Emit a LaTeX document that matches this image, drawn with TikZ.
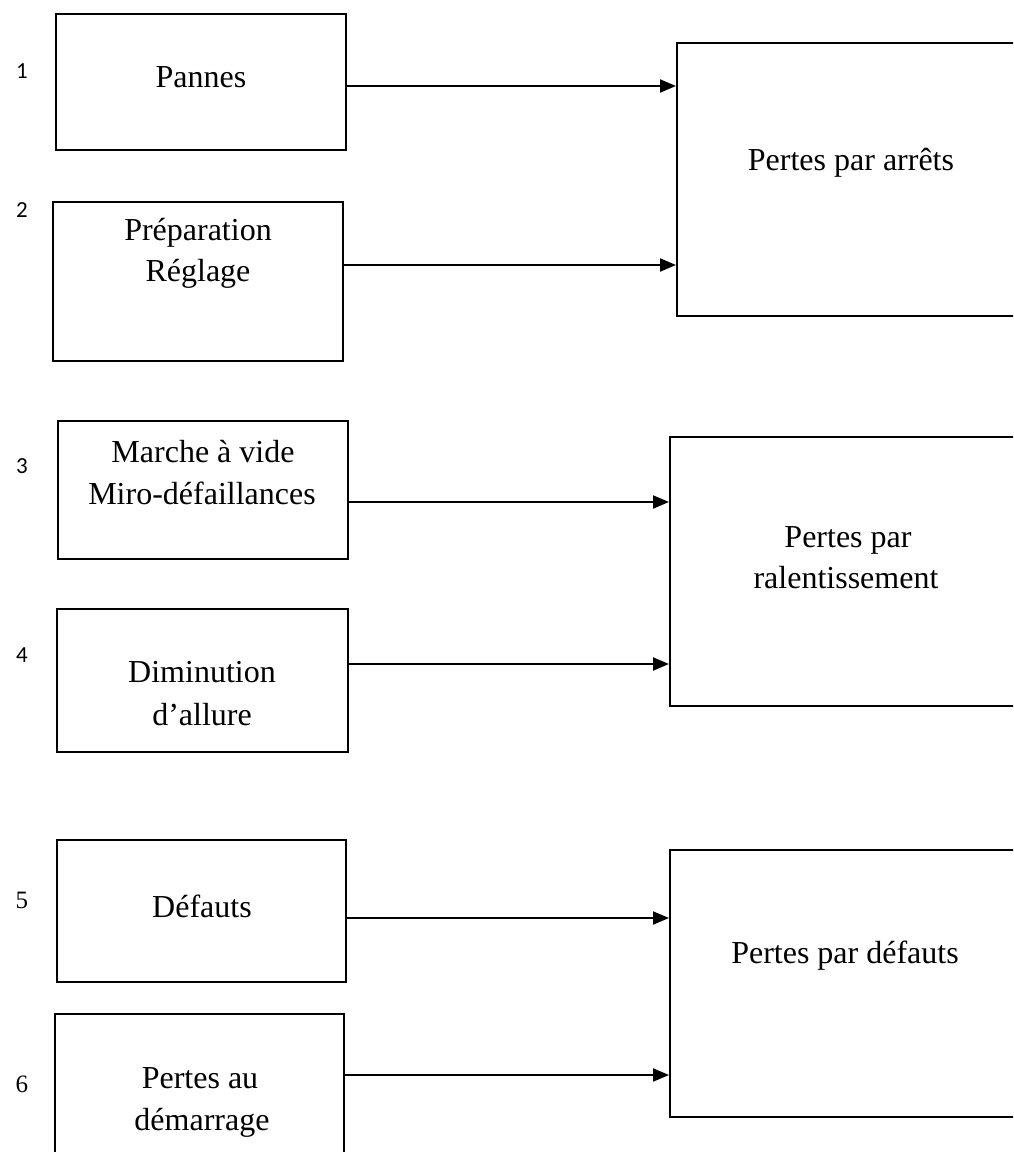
\documentclass[tikz,border=0pt]{standalone}
\usepackage{fontspec}
\setmainfont{Liberation Serif}
\newfontfamily\numfont{Carlito}
\usetikzlibrary{arrows.meta}

\begin{document}
\begin{tikzpicture}[x=1pt,y=-1pt,
  cause/.style={draw,line width=2pt,inner sep=0pt},
  loss/.style={draw,line width=2pt,inner sep=0pt},
  txt/.style={anchor=base,inner sep=0pt,font=\fontsize{32}{38}\selectfont},
  numA/.style={anchor=base,inner sep=0pt,font=\numfont\fontsize{23}{26}\selectfont},
  numB/.style={anchor=base,inner sep=0pt,font=\fontsize{25}{28}\selectfont},
  flow/.style={line width=2pt,-{Triangle[length=16pt,width=13pt]}}]
\useasboundingbox (0,0) rectangle (1013,1152);
\clip (0,0) rectangle (1013,1152);

% cause boxes (left column)
\node[cause,minimum width=290pt,minimum height=136pt] (b1) at (201,82) {};
\node[cause,minimum width=290pt,minimum height=159pt] (b2) at (198,281.5) {};
\node[cause,minimum width=290pt,minimum height=138pt] (b3) at (203,490) {};
\node[cause,minimum width=291pt,minimum height=143pt] (b4) at (202.5,680.5) {};
\node[cause,minimum width=289pt,minimum height=142pt] (b5) at (201.5,911) {};
\node[cause,minimum width=289pt,minimum height=156pt] (b6) at (199.5,1092) {};

% loss boxes (right column)
\node[loss,minimum width=348pt,minimum height=273pt] (r1) at (851,179.5) {};
\node[loss,minimum width=352pt,minimum height=269pt] (r2) at (846,571.5) {};
\node[loss,minimum width=352pt,minimum height=267pt] (r3) at (846,983.5) {};

% labels
\node[txt] (t1) at (201,87) {Pannes};
\node[txt] (t2a) at (198,240) {Préparation};
\node[txt] (t2b) at (198,281) {Réglage};
\node[txt] (t3a) at (203,462) {Marche à vide};
\node[txt] (t3b) at (202,504) {Miro-défaillances};
\node[txt] (t4a) at (202,682) {Diminution};
\node[txt] (t4b) at (202,725) {d’allure};
\node[txt] (t5) at (202,917) {Défauts};
\node[txt] (t6a) at (200,1088) {Pertes au};
\node[txt] (t6b) at (202,1130) {démarrage};

\node[txt] (l1) at (851,170) {Pertes par arrêts};
\node[txt] (l2a) at (848,547) {Pertes par};
\node[txt] (l2b) at (846,588) {ralentissement};
\node[txt] (l3) at (845,963) {Pertes par défauts};

% row numbers
\node[numA] (n1) at (22,78) {1};
\node[numA] (n2) at (22,217) {2};
\node[numA] (n3) at (22,473) {3};
\node[numA] (n4) at (22,662) {4};
\node[numB] (n5) at (22,908) {5};
\node[numB] (n6) at (22,1092) {6};

% connectors
\coordinate (s1) at ([yshift=-4pt]b1.east);
\coordinate (s2) at ([yshift=16.5pt]b2.east);
\coordinate (s3) at ([yshift=-12pt]b3.east);
\coordinate (s4) at ([yshift=16.5pt]b4.east);
\coordinate (s5) at ([yshift=-7pt]b5.east);
\coordinate (s6) at ([yshift=17pt]b6.east);
\draw[flow] (s1) -- (s1 -| r1.west);
\draw[flow] (s2) -- (s2 -| r1.west);
\draw[flow] (s3) -- (s3 -| r2.west);
\draw[flow] (s4) -- (s4 -| r2.west);
\draw[flow] (s5) -- (s5 -| r3.west);
\draw[flow] (s6) -- (s6 -| r3.west);
\end{tikzpicture}
\end{document}
